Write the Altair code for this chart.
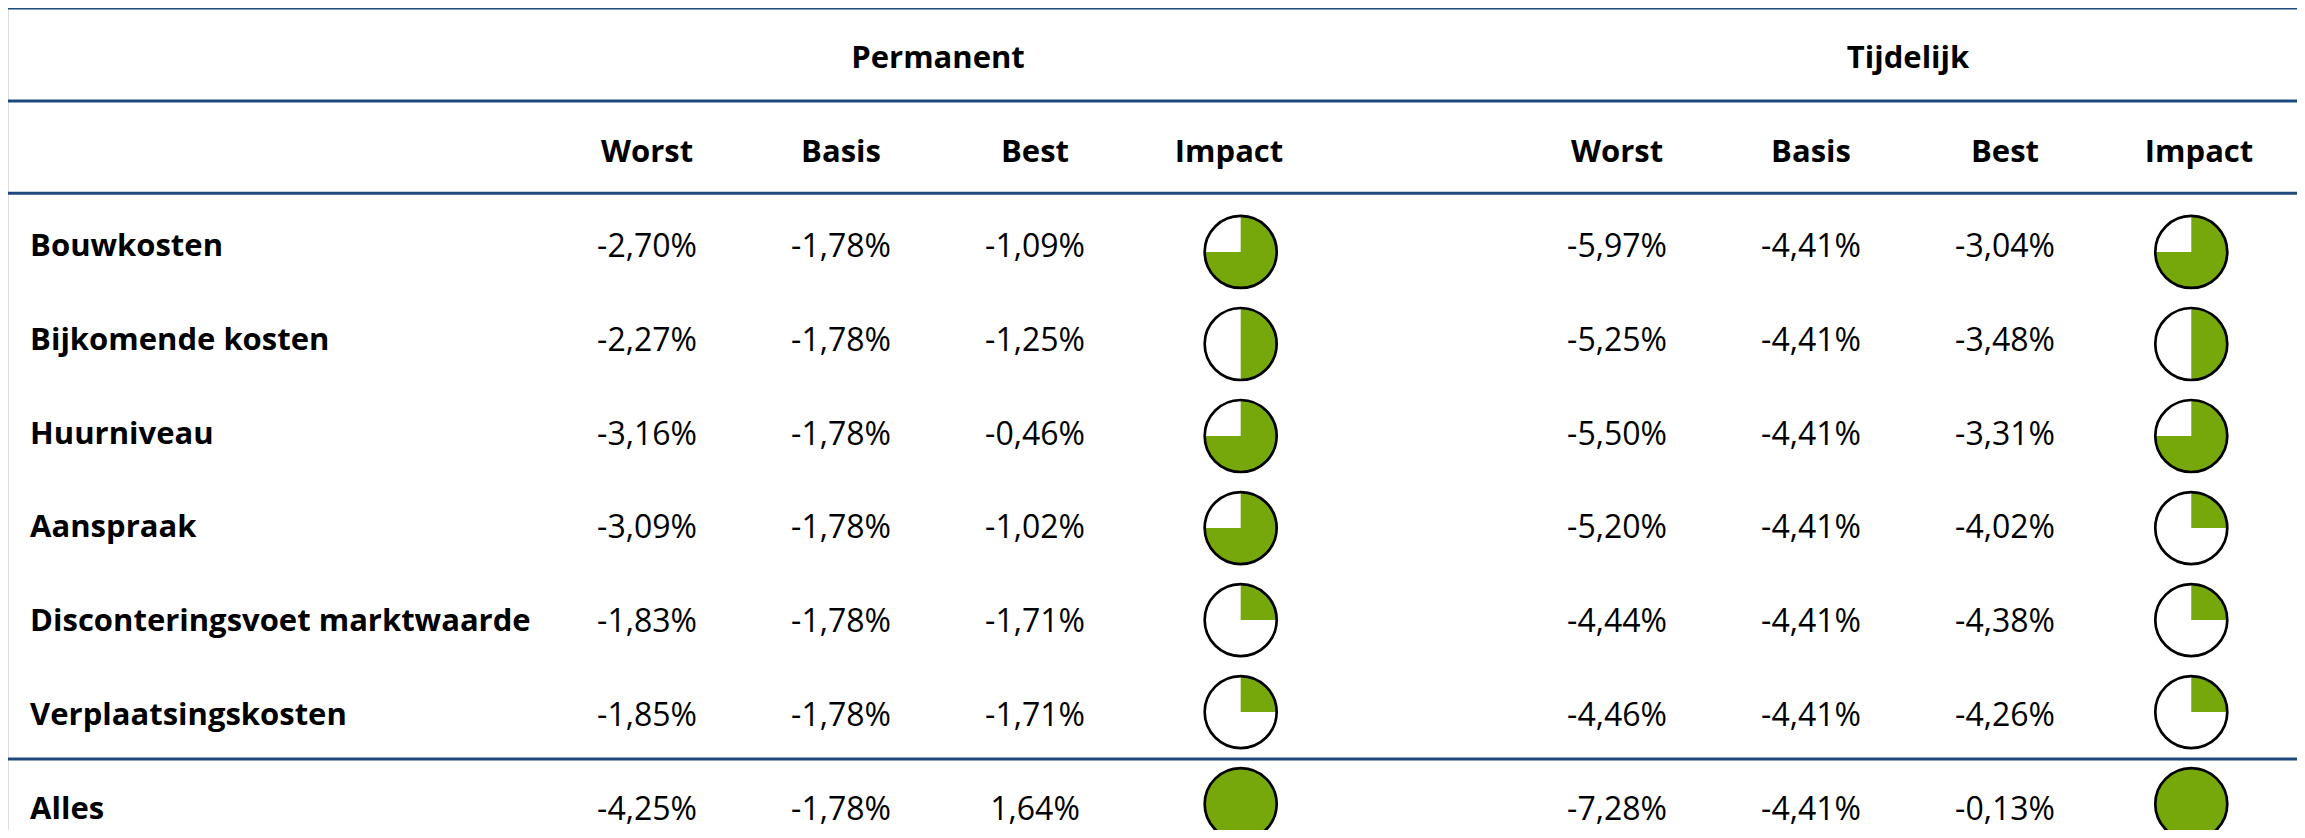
import math
import altair as alt
import pandas as pd

# ---------------- data ----------------
row_labels = ["Bouwkosten", "Bijkomende kosten", "Huurniveau", "Aanspraak",
              "Disconteringsvoet marktwaarde", "Verplaatsingskosten", "Alles"]
group_headers = ["Permanent", "Tijdelijk"]
sub_headers = ["Worst", "Basis", "Best", "Impact"]

perm_worst = [-2.70, -2.27, -3.16, -3.09, -1.83, -1.85, -4.25]
perm_basis = [-1.78, -1.78, -1.78, -1.78, -1.78, -1.78, -1.78]
perm_best = [-1.09, -1.25, -0.46, -1.02, -1.71, -1.71, 1.64]
perm_impact = [0.75, 0.50, 0.75, 0.75, 0.25, 0.25, 1.00]

temp_worst = [-5.97, -5.25, -5.50, -5.20, -4.44, -4.46, -7.28]
temp_basis = [-4.41, -4.41, -4.41, -4.41, -4.41, -4.41, -4.41]
temp_best = [-3.04, -3.48, -3.31, -4.02, -4.38, -4.26, -0.13]
temp_impact = [0.75, 0.50, 0.75, 0.25, 0.25, 0.25, 1.00]

# ---------------- layout (table grid in column / row units) ----------------
W, H = 2289, 822
X0 = -3.294                      # left edge of the table in column units
X1 = X0 + W / 194.0
Y0 = -0.516                      # top edge in row units
Y1 = Y0 + H / 93.8
LABEL_COL = -3.18
GROUP_COLS = [0, 5]              # first value column of each group
BALL_SHIFT = [0.06, -0.04]
BALL_ROW0, BALL_STEP = 2.085, 0.981
LINE_ROWS = [-0.515, 0.476, 1.46, 7.49]
TEXT_DY = 3

GREEN = "#76a70b"
BLUE = "#1f497d"
FONT = "Open Sans"


def fmt(v):
    return f"{v:.2f}".replace(".", ",") + "%"


groups_values = [
    (perm_worst, perm_basis, perm_best, perm_impact),
    (temp_worst, temp_basis, temp_best, temp_impact),
]

header_recs, num_recs, ball_recs = [], [], []
for g, (name, start) in enumerate(zip(group_headers, GROUP_COLS)):
    header_recs.append({"txt": name, "cx": start + 1.5, "cy": 0})
    for k, h in enumerate(sub_headers):
        header_recs.append({"txt": h, "cx": start + k, "cy": 1})
    worst, basis, best, impact = groups_values[g]
    for r in range(len(row_labels)):
        for k, series in enumerate((worst, basis, best)):
            num_recs.append({"txt": fmt(series[r]), "cx": start + k, "cy": 2 + r})
        ball_recs.append({"frac": impact[r], "cx": start + 3 + BALL_SHIFT[g],
                          "cy": BALL_ROW0 + BALL_STEP * r})

label_recs = [{"txt": t, "cx": LABEL_COL, "cy": 2 + i} for i, t in enumerate(row_labels)]
line_recs = [{"cy": v} for v in LINE_ROWS]

xs = alt.Scale(domain=[X0, X1], zero=False, nice=False)
ys = alt.Scale(domain=[Y0, Y1], zero=False, nice=False, reverse=True)
X = alt.X("cx:Q", scale=xs, axis=None)
Y = alt.Y("cy:Q", scale=ys, axis=None)

lines = alt.Chart(pd.DataFrame(line_recs)).mark_rule(color=BLUE, strokeWidth=3).encode(y=Y)

headers = alt.Chart(pd.DataFrame(header_recs)).mark_text(
    font=FONT, fontSize=31, fontWeight="bold", align="center", baseline="middle",
    color="black", dy=TEXT_DY
).encode(x=X, y=Y, text="txt:N")

labels = alt.Chart(pd.DataFrame(label_recs)).mark_text(
    font=FONT, fontSize=31, fontWeight="bold", align="left", baseline="middle",
    color="black", dy=TEXT_DY
).encode(x=X, y=Y, text="txt:N")

numbers = alt.Chart(pd.DataFrame(num_recs)).mark_text(
    font=FONT, fontSize=32, fontWeight="normal", align="center", baseline="middle",
    color="black", dy=TEXT_DY
).encode(x=X, y=Y, text="txt:N")

balls_df = pd.DataFrame(ball_recs)
ball_bg = alt.Chart(balls_df).mark_point(
    shape="circle", filled=True, color="white", size=5184, opacity=1
).encode(x=X, y=Y)
ball_fill = alt.Chart(balls_df).mark_arc(radius=36, color=GREEN).encode(
    x=X, y=Y,
    theta=alt.Theta("frac:Q", scale=alt.Scale(domain=[0, 1], range=[0, 2 * math.pi]), stack=False),
    theta2=alt.value(0),
)
ball_ring = alt.Chart(balls_df).mark_point(
    shape="circle", filled=False, stroke="black", strokeWidth=2.7, size=5184, opacity=1
).encode(x=X, y=Y)

chart = alt.layer(lines, headers, labels, numbers, ball_bg, ball_fill, ball_ring).properties(
    width=W, height=H, padding=0, autosize=alt.AutoSizeParams(type="none")
).configure_view(stroke=None).configure(background="white")

chart.save("out.html", embed_options={"renderer": "svg", "actions": False})
